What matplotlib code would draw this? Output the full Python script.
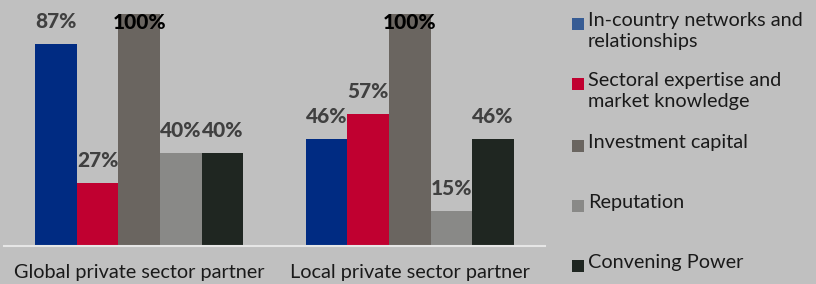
#! /usr/bin/env python3

# import libraries
import numpy as np
import matplotlib
matplotlib.use("Agg")
import matplotlib.pyplot as plt
from matplotlib.patches import Rectangle


# data
categories = ["Global private sector partner", "Local private sector partner"]
series = ["In-country networks and\nrelationships",
          "Sectoral expertise and\nmarket knowledge",
          "Investment capital",
          "Reputation",
          "Convening Power"]
values = [[87, 46], [27, 57], [100, 100], [40, 15], [40, 46]]
lst_color = ["#002b82", "#c00030", "#6a6560", "#898987", "#1f2621"]
legend_color = ["#375c94", "#c00030", "#6a6560", "#898987", "#1f2621"]

# legend y positions (figure pixels from top, first line centre)
legend_y = [24, 84, 146, 206, 266]


# set matplotlib parameters
plt.rcParams["font.family"] = ["Lato", "DejaVu Sans"]
plt.rcParams["figure.dpi"] = 100
bg = "#c0c0c0"


# setup figure
fig = plt.figure(figsize=(8.16, 2.84), facecolor=bg)
ax = fig.add_axes([4 / 816, 38 / 284, 541 / 816, 246 / 284])
ax.set_facecolor(bg)

width = 0.1535
x = np.arange(len(categories))

for i in range(len(series)):
    pos = x + (i - 2) * width
    ax.bar(pos, values[i], width=width, color=lst_color[i], linewidth=0)
    for p, v in zip(pos, values[i]):
        if v >= 100:
            ax.text(p, v - 3.8, "%d%%" % v, ha="center", va="center",
                    fontsize=15, fontweight="black", color="#000000")
        else:
            ax.text(p, v + 9.7, "%d%%" % v, ha="center", va="center",
                    fontsize=15, fontweight="black", color="#404040")

ax.set_xlim(-0.5, 1.5)
ax.set_ylim(0, 106)
for s in ["top", "right", "left"]:
    ax.spines[s].set_visible(False)
ax.spines["bottom"].set_color("#e6e6e6")
ax.spines["bottom"].set_linewidth(1.5)
ax.set_yticks([])
ax.set_xticks(x)
ax.set_xticklabels(categories, fontsize=14.3, color="#1a1a1a")
ax.tick_params(axis="x", length=0, pad=13)


# legend drawn by hand
for i in range(len(series)):
    yc = 1 - legend_y[i] / 284
    fig.patches.append(Rectangle((572 / 816, yc - 6 / 284), 12 / 816, 12 / 284,
                                 transform=fig.transFigure, color=legend_color[i],
                                 linewidth=0))
    fig.text(588 / 816, yc + 12 / 284, series[i], ha="left", va="top",
             fontsize=14.3, color="#1a1a1a", linespacing=1.25)

fig.savefig("out.png", dpi=100, facecolor=bg)
